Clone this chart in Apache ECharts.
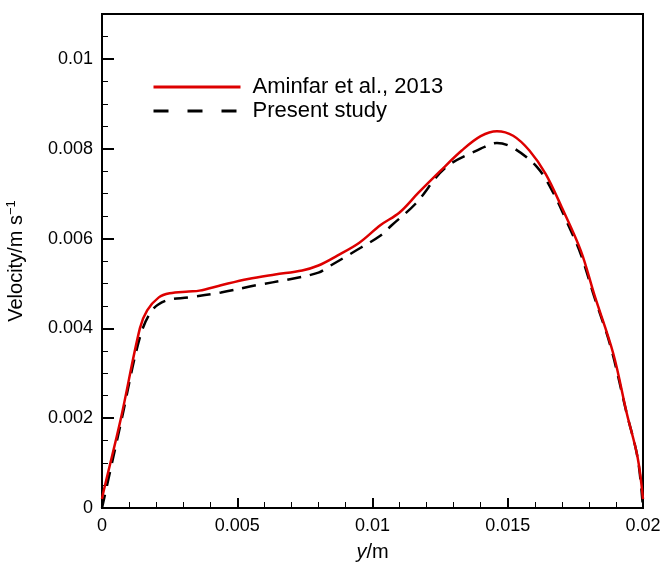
<!DOCTYPE html>
<html>
<head>
<meta charset="utf-8">
<script src="https://cdn.jsdelivr.net/npm/echarts@6/dist/echarts.min.js"></script>
<style>html,body{margin:0;padding:0;background:#fff}#c{width:661px;height:562px}</style>
</head>
<body>
<div id="c"></div>
<script>
const redX = [0, 0.00007, 0.0007, 0.0014, 0.00167, 0.0021, 0.0025, 0.0032, 0.0036, 0.0044, 0.0054, 0.0064, 0.0074, 0.008, 0.0087, 0.0095, 0.0103, 0.011, 0.0117, 0.0125, 0.0133, 0.0140, 0.0146, 0.0152, 0.0158, 0.0164, 0.0170, 0.0177, 0.0182, 0.0189, 0.0194, 0.0198, 0.0200];
const redY = [0.0002, 0.0004, 0.002, 0.004, 0.0044, 0.00469, 0.00478, 0.00482, 0.00484, 0.00496, 0.0051, 0.0052, 0.00529, 0.0054, 0.00562, 0.0059, 0.0063, 0.00658, 0.00702, 0.0075, 0.00796, 0.00828, 0.00839, 0.00829, 0.00796, 0.00744, 0.00669, 0.00573, 0.00475, 0.00344, 0.00211, 0.00113, 0.0002];
const blackX = [0, 0.0007, 0.0014, 0.00185, 0.00237, 0.0032, 0.0044, 0.0057, 0.0069, 0.008, 0.0084, 0.0093, 0.0103, 0.0107, 0.0116, 0.0127, 0.0140, 0.0146, 0.0152, 0.0161, 0.0167, 0.0172, 0.0177, 0.0182, 0.0188, 0.0194, 0.0198, 0.0200];
const blackY = [0, 0.0019, 0.0038, 0.0044, 0.00462, 0.00469, 0.0048, 0.00496, 0.00509, 0.00524, 0.00538, 0.0057, 0.00607, 0.00629, 0.00678, 0.00758, 0.0080, 0.00813, 0.00802, 0.00758, 0.00700, 0.00635, 0.00565, 0.00470, 0.0036, 0.0021, 0.00112, 0];
const seriesNames = ['Aminfar et al., 2013', 'Present study'];

const pairs = (xs, ys) => xs.map((x, i) => [x, ys[i]]);
const font = 'Liberation Sans, Arial, sans-serif';
const RED = '#dd0000';

const chart = echarts.init(document.getElementById('c'));
chart.setOption({
  animation: false,
  grid: { left: 102, right: 18, top: 14, bottom: 54, show: true, borderColor: '#000', borderWidth: 2, outerBoundsMode: 'none', containLabel: false },
  legend: {
    orient: 'vertical', left: 152, top: 76, padding: 0, itemWidth: 87, itemHeight: 14, itemGap: 2,
    itemStyle: { opacity: 0 },
    textStyle: { fontFamily: font, fontSize: 22, color: '#000', lineHeight: 22, padding: [0, 0, 0, 7] },
    data: [
      { name: seriesNames[0], lineStyle: { color: RED, width: 3 } },
      { name: seriesNames[1], lineStyle: { color: '#000', width: 3, type: [15, 19] } }
    ]
  },
  xAxis: {
    type: 'value', min: 0, max: 0.02, interval: 0.005,
    name: '{i|y}/m', nameLocation: 'middle', nameGap: 34,
    nameTextStyle: { fontFamily: font, fontSize: 20, color: '#000', rich: { i: { fontStyle: 'italic', fontFamily: font, fontSize: 20 } } },
    axisLine: { lineStyle: { color: '#000', width: 2 } },
    axisTick: { inside: true, length: 10, lineStyle: { color: '#000', width: 2 } },
    minorTick: { show: true, splitNumber: 5, length: 6, lineStyle: { color: '#000', width: 1 } },
    splitLine: { show: false },
    axisLabel: { formatter: v => String(+v.toFixed(4)), fontFamily: font, fontSize: 18, color: '#000', margin: 9 }
  },
  yAxis: {
    type: 'value', min: 0, max: 0.011, interval: 0.002,
    name: 'Velocity/m s{s|−1}', nameLocation: 'middle', nameGap: 75,
    nameTextStyle: { fontFamily: font, fontSize: 20, color: '#000', rich: { s: { fontSize: 13, fontFamily: font, verticalAlign: 'top', padding: [0, 0, 9, 0] } } },
    axisLine: { lineStyle: { color: '#000', width: 2 } },
    axisTick: { inside: true, length: 12, lineStyle: { color: '#000', width: 2 } },
    minorTick: { show: true, splitNumber: 4, length: 6, lineStyle: { color: '#000', width: 1 } },
    splitLine: { show: false },
    axisLabel: { formatter: v => (v > 0.0105 ? '' : String(+v.toFixed(4))), fontFamily: font, fontSize: 18, color: '#000', margin: 9 }
  },
  series: [
    {
      name: seriesNames[0], type: 'line', data: pairs(redX, redY), smooth: 0.35,
      symbol: 'none', lineStyle: { color: RED, width: 2.5 }, itemStyle: { color: RED }, z: 3
    },
    {
      name: seriesNames[1], type: 'line', data: pairs(blackX, blackY), smooth: 0.35,
      symbol: 'none', lineStyle: { color: '#000', width: 2.5, type: [14, 9] }, itemStyle: { color: '#000' }, z: 2
    }
  ]
});
</script>
</body>
</html>
